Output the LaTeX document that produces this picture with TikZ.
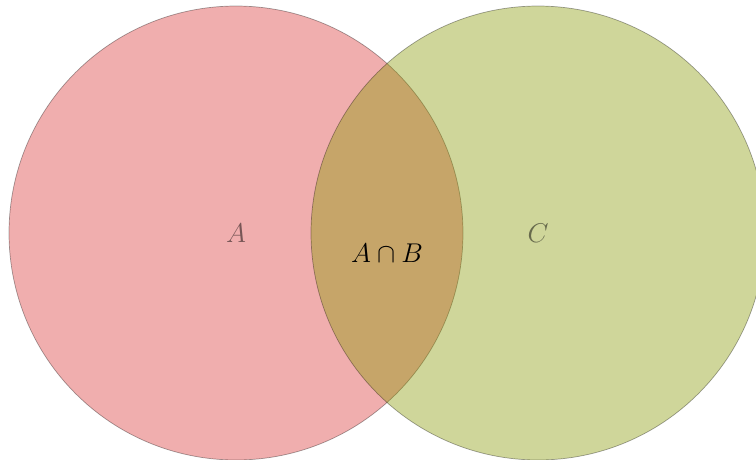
\documentclass[tikz,border=0pt]{standalone}
\begin{document}
\begin{tikzpicture}[x=1pt,y=-1pt,
  setcirc/.style={draw=black, draw opacity=0.35, line width=0.7pt, fill opacity=0.4},
  faded/.style={text opacity=0.5, font=\Huge, scale=1.09, transform shape},
  lbl/.style={font=\Huge, scale=1.09, transform shape}]
\definecolor{cA}{RGB}{218,52,52}
\definecolor{cC}{RGB}{135,152,2}
\useasboundingbox (0,0) rectangle (756,459);
\begin{scope}
\clip (0,0) rectangle (756,459);
\node[circle, setcirc, fill=cA, minimum size=454pt, inner sep=0pt] (circA) at (236,233) {};
\node[circle, setcirc, fill=cC, minimum size=454pt, inner sep=0pt] (circC) at (538,233) {};
\end{scope}
\node[faded] (la) at (236,233) {$A$};
\node[faded] (lc) at (538,233) {$C$};
\node[lbl] (lab) at (387,253) {$A\cap B$};
\end{tikzpicture}
\end{document}
